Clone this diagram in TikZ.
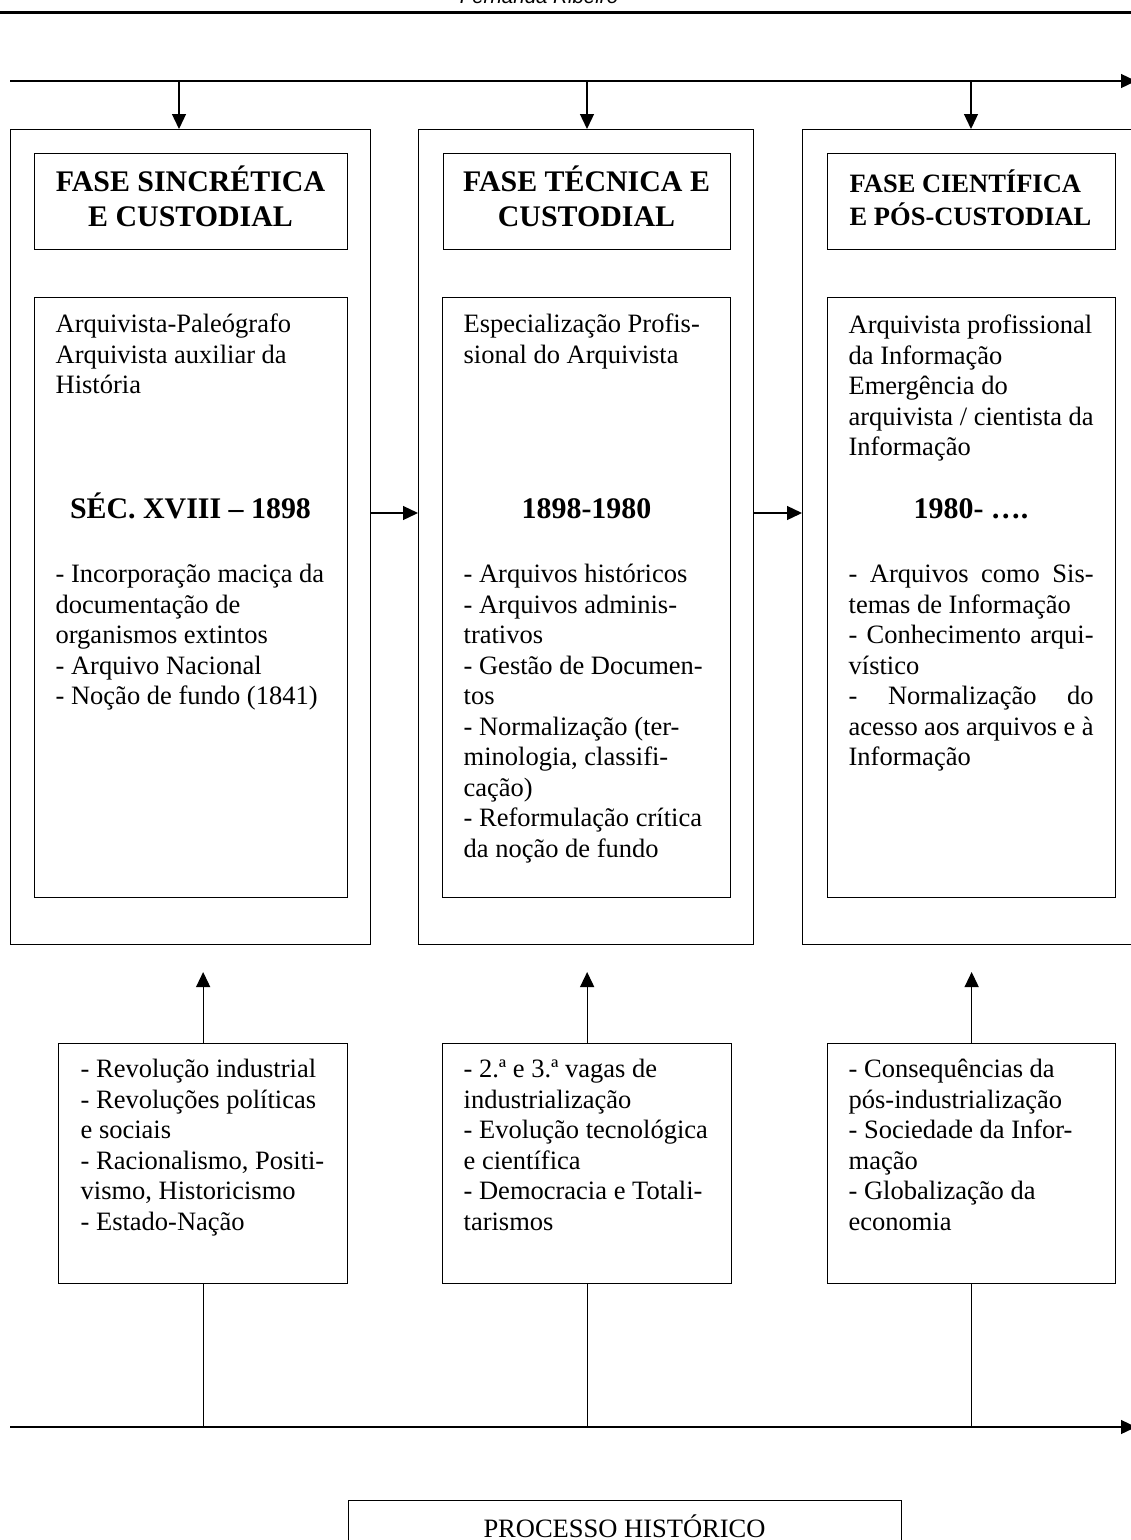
\documentclass[tikz,border=0pt]{standalone}
\usepackage{fontspec}
\setmainfont{Liberation Serif}
\newfontfamily\hdrfont{Liberation Sans}
\usetikzlibrary{arrows.meta}
\begin{document}
\begin{tikzpicture}[x=1pt,y=-1pt,
  line width=1.3pt,
  box/.style={draw, inner sep=0pt, anchor=north west, line width=1.3pt},
  arr/.style={-{Triangle[length=15pt,width=14pt]}},
  body/.style={inner sep=0pt, anchor=north west, align=left, font=\fontsize{26.5}{30.5}\selectfont},
  ttl/.style={inner sep=0pt, anchor=north, align=center, font=\fontsize{29.9}{35.5}\selectfont\bfseries},
  ttlsmall/.style={inner sep=0pt, anchor=north west, align=left, font=\fontsize{26.5}{31}\selectfont\bfseries},
  datelbl/.style={inner sep=0pt, anchor=base, font=\fontsize{29.9}{35.5}\selectfont\bfseries},
]
\path[use as bounding box] (0,0) rectangle (1131,1540);
\fill[white] (0,0) rectangle (1131,1540);
\clip (0,0) rectangle (1131,1540);

% header
\node[anchor=base, inner sep=0pt, font=\hdrfont\itshape\fontsize{20.5}{24}\selectfont] (hdr) at (539,3) {Fernanda Ribeiro};
\coordinate (hl) at (0,12.5);
\coordinate (hr) at (1131,12.5);
\draw[line width=2.2pt] (hl) -- (hr);

% outer boxes
\node[box, minimum width=360pt, minimum height=815pt] (o1) at (10,129) {};
\node[box, minimum width=335pt, minimum height=815pt] (o2) at (418,129) {};
\node[box, minimum width=340pt, minimum height=815pt] (o3) at (802,129) {};

% title boxes
\node[box, minimum width=313pt, minimum height=96pt] (t1) at (34,153) {};
\node[box, minimum width=287pt, minimum height=96pt] (t2) at (443,153) {};
\node[box, minimum width=288pt, minimum height=96pt] (t3) at (827,153) {};

% content boxes
\node[box, minimum width=313pt, minimum height=600pt] (k1) at (34,297) {};
\node[box, minimum width=288pt, minimum height=600pt] (k2) at (442,297) {};
\node[box, minimum width=288pt, minimum height=600pt] (k3) at (827,297) {};

% bottom boxes
\node[box, minimum width=289pt, minimum height=240pt] (b1) at (58,1043) {};
\node[box, minimum width=289pt, minimum height=240pt] (b2) at (442,1043) {};
\node[box, minimum width=288pt, minimum height=240pt] (b3) at (827,1043) {};

% process box
\node[box, minimum width=553pt, minimum height=80pt] (pb) at (348,1500) {};

% titles
\node[ttl] (tt1) at (190.5,165.15) {\strut FASE SINCRÉTICA\\E CUSTODIAL};
\node[ttl] (tt2) at (586.5,165.15) {\strut FASE TÉCNICA E\\CUSTODIAL};
\node[ttlsmall] (tt3) at (849,169.3) {\strut FASE CIENTÍFICA\\E PÓS-CUSTODIAL};

% column 1 content
\node[body] (c1a) at (55,310.65) {\strut Arquivista-Paleógrafo\\Arquivista auxiliar da\\História};
\node[datelbl] (d1) at (190.5,518) {SÉC. XVIII – 1898};
\node[body] (c1b) at (55,560.65) {\strut - Incorporação maciça da\\documentação de\\organismos extintos\\- Arquivo Nacional\\- Noção de fundo (1841)};

% column 2 content
\node[body] (c2a) at (463,310.65) {\strut Especialização Profis-\\sional do Arquivista};
\node[datelbl] (d2) at (586.5,518) {1898-1980};
\node[body] (c2b) at (463,560.65) {\strut - Arquivos históricos\\- Arquivos adminis-\\trativos\\- Gestão de Documen-\\tos\\- Normalização (ter-\\minologia, classifi-\\cação)\\- Reformulação crítica\\da noção de fundo};

% column 3 content
\node[body] (c3a) at (848,311.65) {\strut Arquivista profissional\\da Informação\\Emergência do\\arquivista / cientista da\\Informação};
\node[datelbl] (d3) at (971,518) {1980- ….};
\node[body] (c3b) at (848,560.65) {\strut\makebox[245pt][s]{- Arquivos como Sis-}\\temas de Informação\\\makebox[245pt][s]{- Conhecimento arqui-}\\vístico\\\makebox[245pt][s]{- Normalização do}\\\makebox[245pt][s]{acesso aos arquivos e à}\\Informação};

% bottom texts
\node[body] (bt1) at (80,1055.65) {\strut - Revolução industrial\\- Revoluções políticas\\e sociais\\- Racionalismo, Positi-\\vismo, Historicismo\\- Estado-Nação};
\node[body] (bt2) at (463,1055.65) {\strut - 2.ª e 3.ª vagas de\\industrialização\\- Evolução tecnológica\\e científica\\- Democracia e Totali-\\tarismos};
\node[body] (bt3) at (848,1055.65) {\strut - Consequências da\\pós-industrialização\\- Sociedade da Infor-\\mação\\- Globalização da\\economia};

\node[anchor=base, inner sep=0pt, font=\fontsize{26.5}{30.5}\selectfont] (pt) at (624.5,1537) {PROCESSO HISTÓRICO};

% top timeline
\coordinate (L1) at (10,81);
\coordinate (R1) at (1136,81);
\draw[arr] (L1) -- (R1);
\coordinate (D1) at (179,81);
\coordinate (D2) at (587,81);
\coordinate (D3) at (971,81);
\draw[arr] (D1) -- (D1 |- o1.north);
\draw[arr] (D2) -- (D2 |- o2.north);
\draw[arr] (D3) -- (D3 |- o3.north);

% horizontal arrows between phases
\coordinate (hy) at (0,513);
\draw[arr] (o1.east |- hy) -- (o2.west |- hy);
\draw[arr] (o2.east |- hy) -- (o3.west |- hy);

% up arrows from bottom boxes
\coordinate (uy) at (0,972);
\draw[arr] (b1.north) -- (b1.north |- uy);
\draw[arr] (b2.north) -- (b2.north |- uy);
\draw[arr] (b3.north) -- (b3.north |- uy);

% bottom timeline
\coordinate (L2) at (10,1427);
\coordinate (R2) at (1136,1427);
\draw[arr] (L2) -- (R2);
\draw (b1.south) -- (b1.south |- L2);
\draw (b2.south) -- (b2.south |- L2);
\draw (b3.south) -- (b3.south |- L2);
\end{tikzpicture}
\end{document}
